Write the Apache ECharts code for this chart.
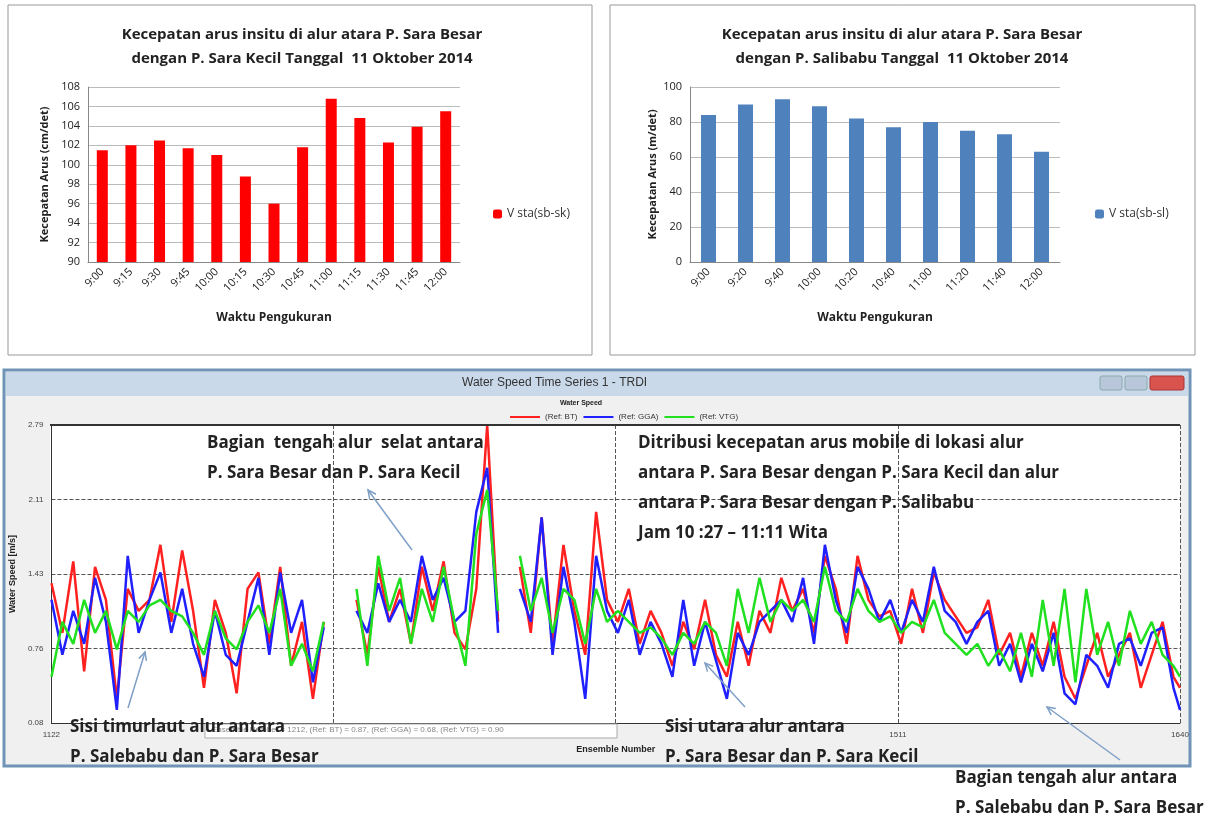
<!DOCTYPE html>
<html>
<head>
<meta charset="utf-8">
<script src="https://cdn.jsdelivr.net/npm/echarts@6/dist/echarts.min.js"></script>
<style>html,body{margin:0;padding:0;background:#fff}#main{width:1215px;height:813px}</style>
</head>
<body>
<div id="main"></div>
<script>
// chart kiri: stasiun sb-sk
var timeSK = ['9:00','9:15','9:30','9:45','10:00','10:15','10:30','10:45','11:00','11:15','11:30','11:45','12:00'];
var vSK = [101.5, 102, 102.5, 101.7, 101, 98.8, 96, 101.8, 106.8, 104.8, 102.3, 103.9, 105.5];
// chart kanan: stasiun sb-sl
var timeSL = ['9:00','9:20','9:40','10:00','10:20','10:40','11:00','11:20','11:40','12:00'];
var vSL = [84, 90, 93, 89, 82, 77, 80, 75, 73, 63];
// time series bawah (ensemble number)
var yTicks = ['0.08', '0.76', '1.43', '2.11', '2.79'];
function range(a, b, s) { var r = []; for (var i = a; i <= b; i += s) r.push(i); return r; }
var ens = range(1122, 1247, 5).concat([1252], range(1262, 1327, 5), [1332], range(1337, 1637, 5), [1640]);
var refBT = [1.35,0.9,1.55,0.55,1.5,1.2,0.3,1.3,1.1,1.2,1.7,1.0,1.65,1.1,0.4,1.2,0.9,0.35,1.3,1.45,0.8,1.5,0.6,1.0,0.3,1.0, null,
  1.2,0.7,1.5,1.0,1.3,0.8,1.5,1.1,1.55,0.9,0.75,1.3,2.79,1.0, null,
  1.5,0.9,1.95,0.8,1.7,1.1,0.7,2.0,1.2,1.0,1.3,0.8,1.1,0.9,0.6,1.0,0.75,1.2,0.7,0.5,1.0,0.6,1.1,0.9,1.4,1.1,1.3,0.9,1.6,1.3,0.8,1.6,1.2,1.05,1.1,0.8,1.3,0.9,1.45,1.2,1.05,0.9,0.95,1.2,0.7,0.9,0.5,0.9,0.6,1.0,0.5,0.3,0.6,0.9,0.5,0.7,0.9,0.4,0.7,1.0,0.5,0.4];
var refGGA = [1.2,0.7,1.1,0.8,1.4,1.0,0.2,1.6,0.9,1.2,1.45,0.9,1.3,0.8,0.5,1.1,0.7,0.6,1.0,1.4,0.7,1.45,0.9,1.2,0.45,0.95, null,
  1.1,0.9,1.35,1.0,1.2,1.0,1.6,1.2,1.4,1.0,1.1,2.0,2.4,0.9, null,
  1.3,1.0,1.95,0.7,1.5,1.0,0.3,1.6,1.1,0.9,1.2,0.7,1.0,0.8,0.5,1.2,0.6,1.0,0.65,0.3,0.9,0.7,1.0,1.1,1.2,1.0,1.4,0.8,1.7,1.2,0.9,1.5,1.3,1.0,1.2,0.9,1.2,1.0,1.5,1.1,1.0,0.8,1.0,1.1,0.6,0.8,0.45,0.8,0.55,0.9,0.35,0.25,0.7,0.6,0.4,0.8,0.85,0.6,0.9,0.95,0.4,0.2];
var refVTG = [0.5,1.0,0.8,1.2,0.9,1.1,0.75,1.1,1.0,1.15,1.2,1.1,1.05,0.9,0.7,1.1,0.85,0.75,1.0,1.15,0.9,1.3,0.6,0.8,0.55,1.0, null,
  1.3,0.6,1.6,1.1,1.4,0.8,1.3,1.0,1.5,1.0,0.6,1.8,2.2,1.1, null,
  1.6,1.1,1.4,0.9,1.3,1.2,0.8,1.3,1.0,1.1,1.0,0.9,0.95,0.85,0.7,0.9,0.8,1.0,0.9,0.6,1.3,0.9,1.4,1.0,1.2,1.1,1.2,1.0,1.5,1.1,1.0,1.3,1.1,1.0,1.05,0.9,1.0,0.95,1.2,0.9,0.8,0.7,0.8,0.6,0.75,0.55,0.9,0.5,1.2,0.6,1.3,0.45,1.3,0.7,1.0,0.6,1.1,0.8,1.0,0.7,0.6,0.5];

function pairs(v) { return ens.map(function (x, i) { return [x, v[i]]; }); }

var myChart = echarts.init(document.getElementById('main'));
var fnt = '"Open Sans", sans-serif';
var ann = { fontFamily: fnt, fontWeight: 'bold', fontSize: 17, fill: '#222', lineHeight: 30 };
function arrow(x1, y1, x2, y2) {
  var a = Math.atan2(y2 - y1, x2 - x1), l = 9;
  return [
    { type: 'line', z: 100, shape: { x1: x1, y1: y1, x2: x2, y2: y2 }, style: { stroke: '#7f9fc6', lineWidth: 1.5 } },
    { type: 'polyline', z: 100, shape: { points: [[x2 - l * Math.cos(a - 0.45), y2 - l * Math.sin(a - 0.45)], [x2, y2], [x2 - l * Math.cos(a + 0.45), y2 - l * Math.sin(a + 0.45)]] }, style: { stroke: '#7f9fc6', lineWidth: 1.5, fill: null } }
  ];
}

var option = {
  animation: false,
  title: [
    { text: 'Kecepatan arus insitu di alur atara P. Sara Besar\ndengan P. Sara Kecil Tanggal  11 Oktober 2014', left: 297, top: 18, textAlign: 'center',
      textStyle: { fontFamily: fnt, fontSize: 15, fontWeight: 'bold', color: '#222', lineHeight: 24 } },
    { text: 'Kecepatan arus insitu di alur atara P. Sara Besar\ndengan P. Salibabu Tanggal  11 Oktober 2014', left: 897, top: 18, textAlign: 'center',
      textStyle: { fontFamily: fnt, fontSize: 15, fontWeight: 'bold', color: '#222', lineHeight: 24 } }
  ],
  legend: [
    { left: 488, top: 203, itemWidth: 9, itemHeight: 9, data: ['V sta(sb-sk)'], textStyle: { fontSize: 12, color: '#333', fontFamily: fnt } },
    { left: 1090, top: 203, itemWidth: 9, itemHeight: 9, data: ['V sta(sb-sl)'], textStyle: { fontSize: 12, color: '#333', fontFamily: fnt } },
    { left: 505, top: 408, itemWidth: 30, itemHeight: 2, itemGap: 6, icon: 'rect', data: ['(Ref: BT)', '(Ref: GGA)', '(Ref: VTG)'], textStyle: { fontSize: 8, color: '#333' } }
  ],
  grid: [
    { left: 88, top: 87, width: 372, height: 175 },
    { left: 690, top: 87, width: 370, height: 175 },
    { left: 50, top: 425, width: 1130, height: 298 }
  ],
  xAxis: [
    { gridIndex: 0, type: 'category', data: timeSK, name: 'Waktu Pengukuran', nameLocation: 'middle', nameGap: 50,
      nameTextStyle: { fontFamily: fnt, fontWeight: 'bold', fontSize: 12, color: '#222' },
      axisTick: { show: false }, axisLine: { lineStyle: { color: '#888' } }, axisLabel: { rotate: 45, color: '#222', fontSize: 11, fontFamily: fnt } },
    { gridIndex: 1, type: 'category', data: timeSL, name: 'Waktu Pengukuran', nameLocation: 'middle', nameGap: 50,
      nameTextStyle: { fontFamily: fnt, fontWeight: 'bold', fontSize: 12, color: '#222' },
      axisTick: { show: false }, axisLine: { lineStyle: { color: '#888' } }, axisLabel: { rotate: 45, color: '#222', fontSize: 11, fontFamily: fnt } },
    { gridIndex: 2, type: 'value', min: 1122, max: 1640, interval: 129.5,
      name: 'Ensemble Number', nameLocation: 'middle', nameGap: 22, nameTextStyle: { fontSize: 9, fontWeight: 'bold', color: '#222' },
      axisLine: { lineStyle: { color: '#333' } }, axisTick: { show: false },
      axisLabel: { fontSize: 8, color: '#444', showMaxLabel: true, formatter: function (v) { return (v === 1122 || Math.round(v) === 1511 || v === 1640) ? Math.round(v) : ''; } },
      splitLine: { show: true, lineStyle: { type: 'dashed', color: '#555', width: 1 } } }
  ],
  yAxis: [
    { gridIndex: 0, type: 'value', min: 90, max: 108, interval: 2, name: 'Kecepatan Arus (cm/det)', nameLocation: 'middle', nameGap: 38,
      nameTextStyle: { fontFamily: fnt, fontWeight: 'bold', fontSize: 11, color: '#222' },
      axisLine: { show: true, lineStyle: { color: '#888' } }, axisLabel: { color: '#222', fontSize: 11, fontFamily: fnt },
      splitLine: { lineStyle: { color: '#bbb' } } },
    { gridIndex: 1, type: 'value', min: 0, max: 100, interval: 20, name: 'Kecepatan Arus (m/det)', nameLocation: 'middle', nameGap: 32,
      nameTextStyle: { fontFamily: fnt, fontWeight: 'bold', fontSize: 11, color: '#222' },
      axisLine: { show: true, lineStyle: { color: '#888' } }, axisLabel: { color: '#222', fontSize: 11, fontFamily: fnt },
      splitLine: { lineStyle: { color: '#bbb' } } },
    { gridIndex: 2, type: 'value', min: 0.08, max: 2.79, interval: 0.6775, name: 'Water Speed [m/s]', nameLocation: 'middle', nameGap: 30,
      nameTextStyle: { fontSize: 9, fontWeight: 'bold', color: '#222' },
      axisLine: { show: true, lineStyle: { color: '#333' } }, axisTick: { show: false },
      axisLabel: { fontSize: 8, color: '#444', formatter: function (v) { return yTicks[Math.round((v - 0.08) / 0.6775)]; } },
      splitLine: { show: true, lineStyle: { type: 'dashed', color: '#555', width: 1 } } }
  ],
  series: [
    { name: 'V sta(sb-sk)', type: 'bar', xAxisIndex: 0, yAxisIndex: 0, data: vSK, barWidth: 11, itemStyle: { color: '#ff0000' } },
    { name: 'V sta(sb-sl)', type: 'bar', xAxisIndex: 1, yAxisIndex: 1, data: vSL, barWidth: 15, itemStyle: { color: '#4f81bd' } },
    { name: '(Ref: BT)', type: 'line', xAxisIndex: 2, yAxisIndex: 2, data: pairs(refBT), showSymbol: false, connectNulls: false,
      itemStyle: { color: '#ff2020' }, lineStyle: { width: 2.5 } },
    { name: '(Ref: GGA)', type: 'line', xAxisIndex: 2, yAxisIndex: 2, data: pairs(refGGA), showSymbol: false, connectNulls: false,
      itemStyle: { color: '#2020ff' }, lineStyle: { width: 2.5 } },
    { name: '(Ref: VTG)', type: 'line', xAxisIndex: 2, yAxisIndex: 2, data: pairs(refVTG), showSymbol: false, connectNulls: false,
      itemStyle: { color: '#20e020' }, lineStyle: { width: 2.5 } }
  ],
  graphic: [
    { type: 'rect', z: -10, shape: { x: 8, y: 5, width: 584, height: 350 }, style: { fill: '#fff', stroke: '#999', lineWidth: 1 } },
    { type: 'rect', z: -10, shape: { x: 610, y: 5, width: 585, height: 350 }, style: { fill: '#fff', stroke: '#999', lineWidth: 1 } },
    { type: 'rect', z: -10, shape: { x: 4, y: 370, width: 1186, height: 396 }, style: { fill: '#f0f0f0', stroke: '#6f94b8', lineWidth: 3 } },
    { type: 'rect', z: -9, shape: { x: 6, y: 372, width: 1182, height: 24 }, style: { fill: '#c9d9ea' } },
    { type: 'rect', z: -8, shape: { x: 50, y: 425, width: 1130, height: 298 }, style: { fill: '#fff' } },
    { type: 'line', z: 10, shape: { x1: 50, y1: 425, x2: 1180, y2: 425 }, style: { stroke: '#333', lineWidth: 2 } },
    { type: 'text', z: 10, left: 462, top: 377, style: { text: 'Water Speed Time Series 1 - TRDI', fontSize: 12, fill: '#333' } },
    { type: 'text', z: 10, left: 560, top: 400, style: { text: 'Water Speed', fontSize: 7, fontWeight: 'bold', fill: '#222' } },
    { type: 'rect', z: 10, shape: { x: 1100, y: 376, width: 22, height: 14, r: 2 }, style: { fill: '#b8c8da', stroke: '#8aa' } },
    { type: 'rect', z: 10, shape: { x: 1125, y: 376, width: 22, height: 14, r: 2 }, style: { fill: '#b8c8da', stroke: '#8aa' } },
    { type: 'rect', z: 10, shape: { x: 1150, y: 376, width: 34, height: 14, r: 2 }, style: { fill: '#d9534f', stroke: '#a33' } },
    { type: 'rect', z: 20, shape: { x: 205, y: 724, width: 412, height: 14 }, style: { fill: '#fff', stroke: '#aaa' } },
    { type: 'text', z: 21, left: 212, top: 726, style: { text: 'Ensemble Number = 1212, (Ref: BT) = 0.87, (Ref: GGA) = 0.68, (Ref: VTG) = 0.90', fontSize: 8, fill: '#888' } },
    { type: 'text', z: 100, left: 207, top: 428, style: Object.assign({ text: 'Bagian  tengah alur  selat antara\nP. Sara Besar dan P. Sara Kecil' }, ann) },
    { type: 'text', z: 100, left: 638, top: 428, style: Object.assign({ text: 'Ditribusi kecepatan arus mobile di lokasi alur\nantara P. Sara Besar dengan P. Sara Kecil dan alur\nantara P. Sara Besar dengan P. Salibabu\nJam 10 :27 – 11:11 Wita' }, ann) },
    { type: 'text', z: 100, left: 70, top: 712, style: Object.assign({ text: 'Sisi timurlaut alur antara\nP. Salebabu dan P. Sara Besar' }, ann) },
    { type: 'text', z: 100, left: 665, top: 712, style: Object.assign({ text: 'Sisi utara alur antara\nP. Sara Besar dan P. Sara Kecil' }, ann) },
    { type: 'text', z: 100, left: 955, top: 763, style: Object.assign({ text: 'Bagian tengah alur antara\nP. Salebabu dan P. Sara Besar' }, ann) }
  ].concat(arrow(412, 550, 368, 490), arrow(128, 708, 145, 652), arrow(745, 707, 705, 663), arrow(1120, 760, 1047, 707))
};
myChart.setOption(option);
</script>
</body>
</html>
